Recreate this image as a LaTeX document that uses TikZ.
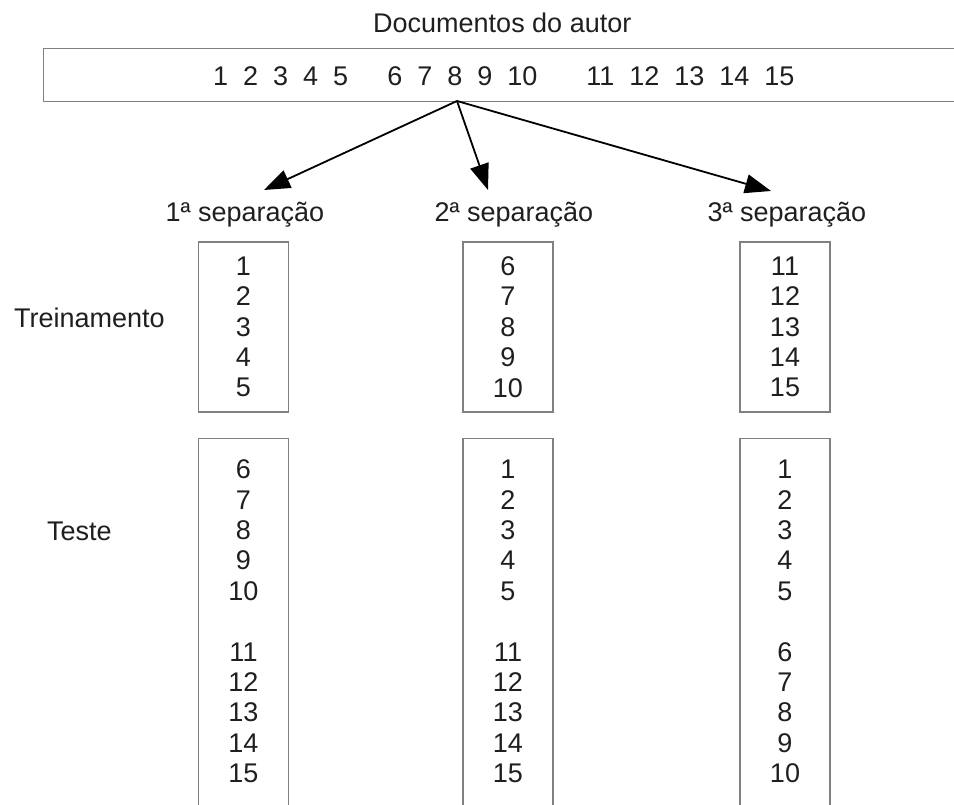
\documentclass[tikz,border=0pt]{standalone}
\usepackage{fontspec}
\setmainfont{Liberation Sans}
\usetikzlibrary{arrows.meta}
\begin{document}
\begin{tikzpicture}[x=1pt,y=-1pt,
  every node/.style={font=\fontsize{27pt}{30.4pt}\selectfont, text=black!88},
  frame/.style={draw=black!50, line width=1.4pt},
  listbox/.style={frame, minimum width=90pt, inner sep=0pt, align=center},
  numlist/.style={inner sep=0pt, align=center},
  split/.style={draw=black, line width=1.8pt, -{Triangle[length=26pt,width=19pt]}},
  ]
\clip (0,0) rectangle (954,805);
\fill[white] (0,0) rectangle (954,805);

% the author's documents
\node[anchor=base west, inner sep=0pt] (title) at (373,33) {Documentos do autor};
\node[frame, anchor=north west, minimum width=1000pt, minimum height=53pt, inner sep=0pt] (bar) at (43,48) {};
\node[anchor=base west, inner sep=0pt] (docs) at (213,86)
  {1~~2~~3~~4~~5\hspace{39pt}6~~7~~8~~9~~10\hspace{49pt}11~~12~~13~~14~~15};

% split arrows
\coordinate (src) at (457,101);
\coordinate (t1) at (264,190);
\coordinate (t2) at (488,190);
\coordinate (t3) at (771,191);
\draw[split] (src) -- (t1);
\draw[split] (src) -- (t2);
\draw[split] (src) -- (t3);

% column headings
\node[anchor=base, inner sep=0pt] (s1) at (245,222) {1ª separação};
\node[anchor=base, inner sep=0pt] (s2) at (514,222) {2ª separação};
\node[anchor=base, inner sep=0pt] (s3) at (787,222) {3ª separação};

% row headings
\node[anchor=base west, inner sep=0pt] (train) at (14,327) {Treinamento};
\node[anchor=base west, inner sep=0pt] (test) at (47,540) {Teste};

% training sets
\node[listbox, minimum height=170pt] (tr1) at (243.5,327) {1\\2\\3\\4\\5};
\node[listbox, minimum height=170pt] (tr2) at (508,327) {6\\7\\8\\9\\10};
\node[listbox, minimum height=170pt] (tr3) at (785,327) {11\\12\\13\\14\\15};

% test sets
\node[listbox, anchor=north, minimum height=420pt] (te1) at (243.5,438) {};
\node[listbox, anchor=north, minimum height=420pt] (te2) at (508,438) {};
\node[listbox, anchor=north, minimum height=420pt] (te3) at (785,438) {};
\node[numlist] (te1n) at (243.5,621.5) {6\\7\\8\\9\\10\\[30.4pt]11\\12\\13\\14\\15};
\node[numlist] (te2n) at (508,621.5) {1\\2\\3\\4\\5\\[30.4pt]11\\12\\13\\14\\15};
\node[numlist] (te3n) at (785,621.5) {1\\2\\3\\4\\5\\[30.4pt]6\\7\\8\\9\\10};
\end{tikzpicture}
\end{document}
